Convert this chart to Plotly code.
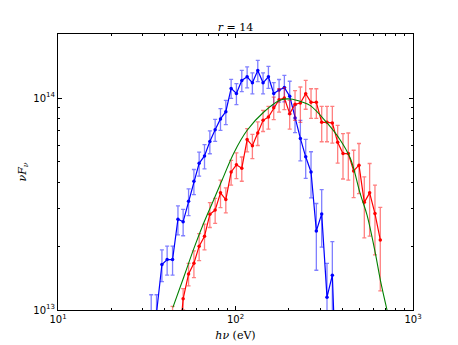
import plotly.graph_objects as go

# energies (eV) and nu F_nu in units of 1e13
blue_e = [33.5, 35.9, 38.5, 41.2, 44.2, 47.4, 50.7, 54.4, 58.3, 62.4, 66.9, 71.7,
          76.8, 82.3, 88.2, 94.5, 101.2, 108.5, 116.3, 124.5, 133.5, 143.0, 153.3,
          164.2, 176.0, 188.5, 202.0, 216.5, 232.0, 248.6, 266.4, 285.4, 305.9,
          327.7, 351.2, 376.3]
blue_f = [0.88, 0.97, 1.64, 1.73, 1.73, 2.68, 2.61, 3.26, 4.05, 4.92, 5.33, 6.23,
          7.09, 7.97, 8.62, 11.1, 10.5, 12.1, 12.6, 11.8, 13.5, 11.8, 12.6,
          10.5, 10.9, 11.2, 10.2, 8.05, 6.45, 5.28, 4.48, 2.36, 2.84,
          1.15, 1.46, 0.3]
blue_err = [0.30, 0.21, 0.28, 0.27, 0.27, 0.42, 0.37, 0.47, 0.55, 0.64, 0.70, 0.77,
            0.84, 0.94, 1.13, 1.14, 1.2, 1.39, 1.44, 1.35, 1.55, 1.35, 1.5,
            1.33, 1.33, 1.6, 1.8, 1.19, 1.4, 1.1, 1.1, 0.82, 0.86,
            0.51, 0.64, 0.25]

red_e = [44.2, 47.4, 50.7, 54.4, 58.3, 62.4, 66.9, 71.7, 76.8, 82.3, 88.2, 94.5,
         101.2, 108.5, 116.3, 124.5, 133.5, 143.0, 153.3, 164.2, 176.0, 188.5,
         202.0, 216.5, 232.0, 248.6, 266.4, 285.4, 305.9, 327.7, 351.2, 376.3,
         403.3, 432.1, 463.0, 496.2, 531.7, 569.7, 610.5, 654.2]
red_f = [0.80, 0.60, 1.13, 1.48, 1.66, 2.00, 2.23, 2.83, 2.96, 3.57, 3.32, 4.48,
         4.84, 4.66, 6.37, 5.96, 6.84, 7.85, 8.14, 9.0, 9.82, 10.0,
         8.44, 9.34, 9.47, 10.48, 9.54, 9.54, 7.68, 7.68, 7.63, 6.18,
         5.47, 5.47, 4.53, 4.82, 3.22, 3.57, 2.85, 2.14]
red_err = [0.24, 0.18, 0.13, 0.18, 0.24, 0.29, 0.31, 0.38, 0.40, 0.53, 0.45, 0.6,
           0.67, 0.61, 0.8, 0.78, 0.87, 0.9, 1.0, 1.1, 1.24, 1.19,
           1.31, 1.5, 1.8, 1.63, 1.52, 1.52, 1.46, 1.46, 1.5, 1.25,
           1.32, 1.37, 1.14, 1.28, 1.03, 1.34, 1.03, 0.91]

model_e = [44.4, 51.2, 58.3, 66.3, 75.5, 86.0, 97.9, 116.3, 144.4, 179.2, 204.0,
           237.3, 264.3, 328.1, 389.9, 444.0, 505.2, 551.0, 613.8, 654.7, 714.0]
model_f = [1.029, 1.436, 1.952, 2.578, 3.320, 4.293, 5.508, 7.043, 8.593, 9.786, 9.892,
           9.576, 9.203, 7.625, 6.318, 5.180, 3.518, 2.802, 1.849, 1.385, 1.0]

scale = 1e13

fig = go.Figure()

for e, f, err, col, cola in [(blue_e, blue_f, blue_err, '#0000ff', 'rgba(0,0,255,0.5)'),
                             (red_e, red_f, red_err, '#ff0000', 'rgba(255,0,0,0.5)')]:
    fig.add_trace(go.Scatter(
        x=e, y=[v * scale for v in f],
        mode='lines+markers',
        line=dict(color=col, width=1.2),
        marker=dict(color=col, size=3.5),
        error_y=dict(type='data', array=[v * scale for v in err],
                     color=cola, thickness=1.3, width=2),
        showlegend=False,
    ))

fig.add_trace(go.Scatter(
    x=model_e, y=[v * scale for v in model_f],
    mode='lines', line=dict(color='#008000', width=1.1, shape='spline'),
    showlegend=False,
))

tick_font = dict(family='DejaVu Sans', size=10, color='black')
label_font = dict(family='DejaVu Serif', size=11, color='black')
axis_common = dict(type='log', showgrid=False, zeroline=False, showline=True,
                   linecolor='black', linewidth=1, mirror='ticks', ticks='inside',
                   ticklen=4, tickcolor='black', tickfont=tick_font,
                   minor=dict(ticks='inside', ticklen=2, tickcolor='black',
                              dtick='D1', showgrid=False))

fig.update_layout(
    width=458, height=345,
    margin=dict(l=50, r=53, t=26, b=43),
    paper_bgcolor='white', plot_bgcolor='white',
    title=dict(text='<i>r</i> = 14', xref='paper', x=0.5, xanchor='center',
               y=0.945, yanchor='middle', font=label_font),
    xaxis=dict(axis_common, range=[1, 3], tickvals=[10, 100, 1000],
               ticktext=['10<sup>1</sup>', '10<sup>2</sup>', '10<sup>3</sup>'],
               title=dict(text='<i>hν</i> (eV)', standoff=7, font=label_font)),
    yaxis=dict(axis_common, range=[13, 14.302], tickvals=[1e13, 1e14],
               ticktext=['10<sup>13</sup>', '10<sup>14</sup>'],
               title=dict(text='<i>νF<sub>ν</sub></i>', standoff=4, font=label_font)),
)

fig.write_html("out.html")
